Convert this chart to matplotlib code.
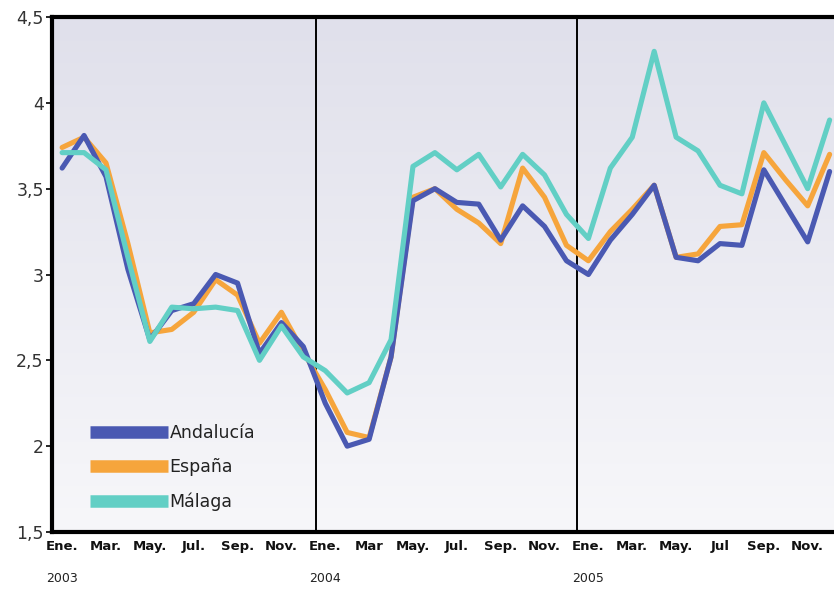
import matplotlib.pyplot as plt
import numpy as np

# monthly values, Ene 2003 .. Dic 2005
andalucia = [3.62, 3.81, 3.57, 3.03, 2.62, 2.79, 2.83, 3.00, 2.95, 2.54, 2.72, 2.58,
             2.25, 2.00, 2.04, 2.52, 3.43, 3.50, 3.42, 3.41, 3.20, 3.40, 3.28, 3.08,
             3.00, 3.20, 3.35, 3.52, 3.10, 3.08, 3.18, 3.17, 3.61, 3.40, 3.19, 3.60]
espana = [3.74, 3.80, 3.65, 3.18, 2.66, 2.68, 2.78, 2.97, 2.88, 2.60, 2.78, 2.55,
          2.33, 2.08, 2.05, 2.52, 3.45, 3.50, 3.38, 3.30, 3.18, 3.62, 3.45, 3.17,
          3.08, 3.25, 3.38, 3.52, 3.10, 3.12, 3.28, 3.29, 3.71, 3.55, 3.40, 3.70]
malaga = [3.71, 3.71, 3.61, 3.10, 2.61, 2.81, 2.80, 2.81, 2.79, 2.50, 2.70, 2.52,
          2.44, 2.31, 2.37, 2.62, 3.63, 3.71, 3.61, 3.70, 3.51, 3.70, 3.58, 3.35,
          3.21, 3.62, 3.80, 4.30, 3.80, 3.72, 3.52, 3.47, 4.00, 3.75, 3.50, 3.90]

month_labels = ["Ene.", "Mar.", "May.", "Jul.", "Sep.", "Nov.",
                "Ene.", "Mar", "May.", "Jul.", "Sep.", "Nov.",
                "Ene.", "Mar.", "May.", "Jul", "Sep.", "Nov."]
years = ["2003", "2004", "2005"]
y_ticks = [1.5, 2, 2.5, 3, 3.5, 4, 4.5]

blue = "#4a59b2"
orange = "#f6a53c"
cyan = "#62cfc5"

fig = plt.figure(figsize=(8.34, 5.89), dpi=100)
ax = fig.add_axes([0.0624, 0.0968, 0.9376, 0.8743])

x = np.arange(len(andalucia))
ax.set_xlim(-0.46, 35.2)
ax.set_ylim(1.5, 4.5)

# soft vertical gradient background
grad = np.linspace(0, 1, 256).reshape(-1, 1)
ax.imshow(grad, extent=[-0.46, 35.2, 1.5, 4.5], aspect="auto",
          cmap=plt.matplotlib.colors.LinearSegmentedColormap.from_list(
              "bg", ["#f7f7fa", "#e0e0eb"]), origin="lower", zorder=0)

for xv in [11.58, 23.47]:
    ax.axvline(xv, color="black", lw=1.4, zorder=1)

ax.plot(x, espana, color=orange, lw=3.7, solid_joinstyle="round",
        solid_capstyle="round", zorder=2, label="España")
ax.plot(x, andalucia, color=blue, lw=3.7, solid_joinstyle="round",
        solid_capstyle="round", zorder=3, label="Andalucía")
ax.plot(x, malaga, color=cyan, lw=3.7, solid_joinstyle="round",
        solid_capstyle="round", zorder=4, label="Málaga")

handles, labels = ax.get_legend_handles_labels()
order = [1, 0, 2]
leg = ax.legend([handles[i] for i in order], [labels[i] for i in order],
                loc="lower left", bbox_to_anchor=(0.028, 0.01), frameon=False,
                handlelength=4.5, handletextpad=0.1, labelspacing=0.95,
                fontsize=12.5)
for line in leg.get_lines():
    line.set_linewidth(9)
    line.set_solid_capstyle("butt")
for t in leg.get_texts():
    t.set_color("#222222")

ax.set_yticks(y_ticks)
ax.set_yticklabels([f"{v:g}".replace(".", ",") for v in y_ticks],
                   fontsize=12.5, color="#333333")
ax.set_xticks(np.arange(0, 36, 2))
ax.set_xticklabels(month_labels, fontsize=9.5, fontweight="bold", color="#111111")
ax.tick_params(axis="x", length=0, pad=6)
ax.tick_params(axis="y", length=4, width=1.2, pad=2)

for i, yr in enumerate(years):
    ax.text(i * 12, -0.09, yr, transform=ax.get_xaxis_transform(),
            ha="center", va="center", fontsize=9, color="#222222")

for side in ["left", "bottom", "top"]:
    ax.spines[side].set_linewidth(3)
    ax.spines[side].set_color("black")
ax.spines["right"].set_visible(False)

fig.savefig("out.png", dpi=100)
